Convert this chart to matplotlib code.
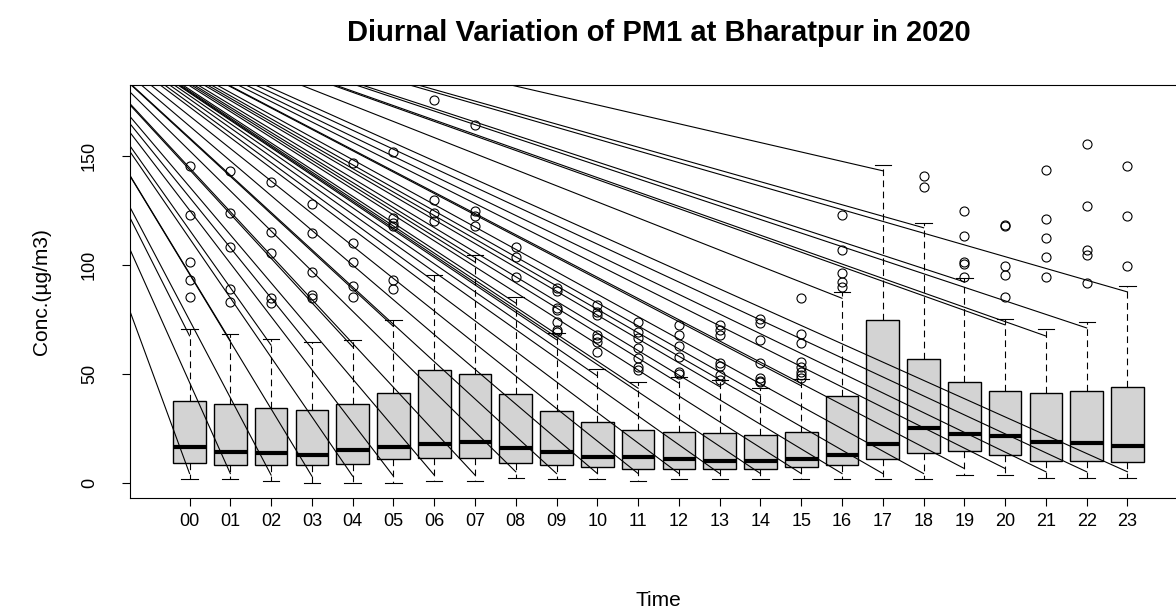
import matplotlib
matplotlib.use("Agg")
import matplotlib.pyplot as plt

plt.rcParams['font.family'] = ['Liberation Sans', 'DejaVu Sans']

hours = ['00', '01', '02', '03', '04', '05', '06', '07', '08', '09', '10', '11',
         '12', '13', '14', '15', '16', '17', '18', '19', '20', '21', '22', '23']

# box statistics
whislo = [1.7, 1.7, 0.9, 0.2, 0.2, 0.2, 0.9, 0.9, 2.4, 1.7, 1.7, 0.9,
          1.7, 1.7, 1.7, 1.7, 1.7, 1.8, 1.8, 3.7, 3.7, 2.4, 2.4, 2.4]
q1 = [9.3, 8.1, 8.1, 8.1, 8.7, 10.9, 11.6, 11.6, 9.3, 8.1, 7.3, 6.6,
      6.6, 6.6, 6.6, 7.3, 8.1, 11.0, 13.6, 14.5, 13.0, 10.1, 10.1, 9.5]
med = [16.7, 14.4, 13.8, 13.0, 15.1, 16.7, 17.9, 18.7, 15.9, 14.4, 12.2, 12.2,
       10.9, 10.1, 10.1, 10.9, 13.0, 17.9, 25.1, 22.3, 21.6, 18.9, 18.2, 17.1]
q3 = [37.8, 36.4, 34.3, 33.6, 36.4, 41.3, 52.0, 49.9, 40.7, 32.9, 27.8, 24.3,
      23.5, 22.8, 22.2, 23.5, 39.9, 74.8, 57.0, 46.3, 42.1, 41.3, 42.1, 44.2]
whishi = [70.5, 68.3, 66.2, 64.7, 65.4, 74.8, 95.4, 104.3, 85.5, 68.7, 52.1, 46.5,
          48.8, 47.2, 43.4, 47.6, 87.5, 145.9, 119.4, 93.9, 75.4, 70.5, 74.0, 90.4]

outliers = [
    [145.1, 122.9, 101.5, 93.1, 85.5],
    [142.8, 123.7, 108.1, 88.8, 83.2],
    [137.9, 115.0, 105.4, 84.7, 82.4],
    [128.0, 114.5, 96.6, 86.2, 84.7],
    [146.6, 110.2, 101.1, 90.5, 85.5],
    [151.5, 121.4, 119.0, 117.6, 93.1, 88.8],
    [175.4, 129.5, 123.7, 119.9],
    [164.2, 124.5, 122.5, 117.6],
    [108.4, 103.4, 94.6],
    [89.3, 88.2, 80.1, 79.4, 74.0, 70.2, 69.4],
    [81.7, 78.6, 77.1, 67.9, 66.4, 64.8, 60.2],
    [74.0, 69.4, 66.4, 61.8, 57.2, 53.4, 51.8],
    [72.5, 67.9, 62.8, 57.9, 51.0, 50.0],
    [72.5, 70.2, 67.9, 54.9, 53.7, 49.5, 47.2],
    [75.1, 73.5, 65.6, 54.9, 48.0, 46.9, 46.5],
    [84.7, 68.3, 64.4, 55.6, 53.1, 51.0, 49.5, 48.0],
    [122.9, 106.9, 96.2, 92.3, 90.0],
    [],
    [140.5, 135.9],
    [124.5, 113.0, 101.1, 100.5, 94.6],
    [118.3, 117.9, 99.5, 95.4, 85.5],
    [143.6, 121.0, 112.2, 103.4, 94.6],
    [155.5, 127.0, 106.9, 104.6, 91.9],
    [145.1, 122.2, 99.5],
]

# stray straight lines that all meet at one point up-left of the plot
line_origin = (-3.55, 236.0)
line_hi = [67.5, 65.3, 63.2, 61.7, 62.4, 71.8, 92.4, 101.3, 82.5, 65.7, 49.1, 43.5,
           45.8, 44.2, 40.4, 44.6, 84.7, 143.1, 117.0, 92.2, 72.5, 67.4, 71.1, 87.6]
line_lo = [4.4, 4.4, 3.7, 3.2, 3.2, 3.2, 3.7, 3.7, 5.2, 4.4, 4.4, 4.4,
           4.4, 4.4, 4.4, 4.4, 4.4, 4.4, 4.4, 6.7, 6.7, 5.2, 5.2, 5.2]

fig = plt.figure(figsize=(11.76, 6.16), dpi=100)
ax = fig.add_axes([130 / 1176, (616 - 498) / 616, 1057 / 1176, 413 / 616])

stats = []
for i in range(len(hours)):
    stats.append({'whislo': whislo[i], 'q1': q1[i], 'med': med[i], 'q3': q3[i],
                  'whishi': whishi[i], 'fliers': outliers[i], 'label': hours[i]})

pos = list(range(1, len(hours) + 1))
ax.bxp(stats, positions=pos, widths=0.8, capwidths=0.4, patch_artist=True,
       boxprops=dict(facecolor='#d3d3d3', edgecolor='black', linewidth=1.0),
       medianprops=dict(color='black', linewidth=3.0, solid_capstyle='butt'),
       whiskerprops=dict(color='black', linewidth=0.8, linestyle=(0, (6, 4))),
       capprops=dict(color='black', linewidth=0.8),
       flierprops=dict(marker='o', markerfacecolor='none', markeredgecolor='black',
                       markersize=6.5, markeredgewidth=0.8))

for i, p in enumerate(pos):
    for v in (line_hi[i], line_lo[i]):
        ax.plot([line_origin[0], p], [line_origin[1], v], color='black',
                linewidth=0.8, zorder=5)

allv = whislo + whishi + [v for o in outliers for v in o]
lo, hi = min(allv), max(allv)
ext = 0.04 * (hi - lo)
ax.set_ylim(lo - ext, hi + ext)
ax.set_xlim(0.5 - 0.96, 24.5 + 0.96)

ax.set_xticks(pos)
ax.set_xticklabels(hours)
ax.set_yticks([0, 50, 100, 150])
ax.set_yticklabels(['0', '50', '100', '150'], rotation=90, va='center')
ax.tick_params(direction='out', length=6, width=0.8, labelsize=13)
ax.tick_params(axis='x', pad=5)
ax.tick_params(axis='y', pad=17)
for s in ax.spines.values():
    s.set_linewidth(0.8)

ax.set_xlabel('Time', fontsize=15, labelpad=44)
ax.set_ylabel('Conc.(µg/m3)', fontsize=15, labelpad=22)
fig.text((130 + 1187) / 2 / 1176, 1 - 33 / 616, 'Diurnal Variation of PM1 at Bharatpur in 2020',
         ha='center', va='center', fontsize=21, fontweight='bold')

fig.savefig('out.png', dpi=100)
